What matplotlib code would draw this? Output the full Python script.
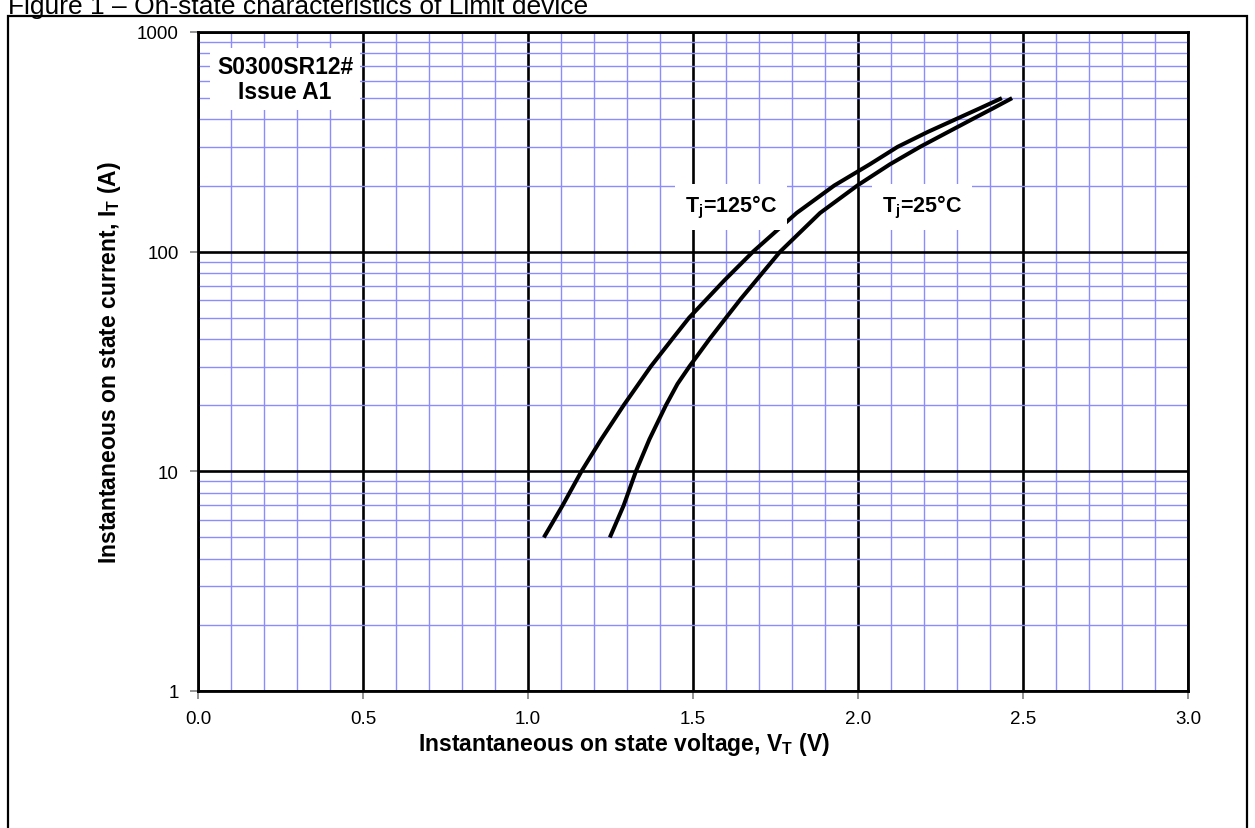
import matplotlib.pyplot as plt
from matplotlib.patches import Rectangle
from matplotlib.ticker import FixedLocator, NullFormatter, FixedFormatter

plt.rcParams['font.family'] = ['Liberation Sans', 'DejaVu Sans']

# on-state curves
v_125 = [1.048, 1.105, 1.162, 1.222, 1.29, 1.372, 1.437, 1.488, 1.595, 1.682, 1.814, 1.928,
         2.036, 2.12, 2.21, 2.295, 2.37, 2.436]
i_125 = [5, 7, 10, 14, 20, 30, 40, 50, 74, 100, 150, 200, 250, 300, 350, 400, 450, 500]
v_25 = [1.248, 1.29, 1.327, 1.368, 1.418, 1.453, 1.489, 1.55, 1.60, 1.645, 1.764, 1.885, 2.0,
        2.097, 2.188, 2.272, 2.345, 2.41, 2.467]
i_25 = [5, 7, 10, 14, 20, 25, 30, 40, 50, 61, 100, 150, 201, 250, 300, 350, 400, 450, 500]

x_ticks = [0.0, 0.5, 1.0, 1.5, 2.0, 2.5, 3.0]
y_ticks = [1, 10, 100, 1000]

fig = plt.figure(figsize=(12.55, 8.29), dpi=100)
ax = fig.add_axes([198 / 1255, 1 - 692 / 829, 990 / 1255, 659 / 829])

# outer frame and cut-off title
fig.patches.append(Rectangle((8 / 1255, -0.05), 1239 / 1255, 1.05 - 17 / 829,
                             transform=fig.transFigure, fill=False,
                             edgecolor='black', linewidth=1.6))
fig.text(8 / 1255, 1 - 14 / 829, 'Figure 1 \u2013 On-state characteristics of Limit device',
         fontsize=19, va='baseline', ha='left')

ax.set_yscale('log')
ax.set_xlim(0, 3)
ax.set_ylim(1, 1000)

minor_x = [i / 10 for i in range(31) if i % 5 != 0]
minor_y = [m * 10 ** d for d in range(3) for m in range(2, 10)]
ax.xaxis.set_major_locator(FixedLocator(x_ticks))
ax.xaxis.set_major_formatter(FixedFormatter([f'{t:.1f}' for t in x_ticks]))
ax.xaxis.set_minor_locator(FixedLocator(minor_x))
ax.yaxis.set_major_locator(FixedLocator(y_ticks))
ax.yaxis.set_major_formatter(FixedFormatter([str(t) for t in y_ticks]))
ax.yaxis.set_minor_locator(FixedLocator(minor_y))
ax.yaxis.set_minor_formatter(NullFormatter())

ax.grid(which='minor', color='#8c8cff', linewidth=1.0)
ax.grid(which='major', color='black', linewidth=1.9)
ax.set_axisbelow(True)
ax.tick_params(which='major', direction='out', length=6, width=1.2, color='#808080',
               labelsize=13.5, pad=8)
ax.tick_params(which='minor', length=0)
for s in ax.spines.values():
    s.set_linewidth(2)

ax.plot(v_125, i_125, color='black', linewidth=2.9, solid_capstyle='butt')
ax.plot(v_25, i_25, color='black', linewidth=2.9, solid_capstyle='butt')

box = dict(facecolor='white', edgecolor='none', pad=7)
ax.text(1.615, 160, 'T$_\\mathregular{j}$=125\u00b0C', fontsize=15.5, fontweight='bold',
        ha='center', va='center', bbox=box)
ax.text(2.194, 160, 'T$_\\mathregular{j}$=25\u00b0C', fontsize=15.5, fontweight='bold',
        ha='center', va='center', bbox=box)
ax.text(0.264, 612, 'S0300SR12#\nIssue A1', fontsize=16.5, fontweight='bold',
        ha='center', va='center', linespacing=1.1,
        bbox=dict(facecolor='white', edgecolor='none', pad=5))

ax.set_xlabel('Instantaneous on state voltage, V$_\\mathregular{T}$ (V)', fontsize=16.5,
              fontweight='bold', va='center')
ax.xaxis.set_label_coords(0.43, -53 / 659)
ax.set_ylabel('Instantaneous on state current, I$_\\mathregular{T}$ (A)', fontsize=16.5,
              fontweight='bold', va='center')
ax.yaxis.set_label_coords(-88 / 990, 0.5)

fig.savefig('out.png', dpi=100)
